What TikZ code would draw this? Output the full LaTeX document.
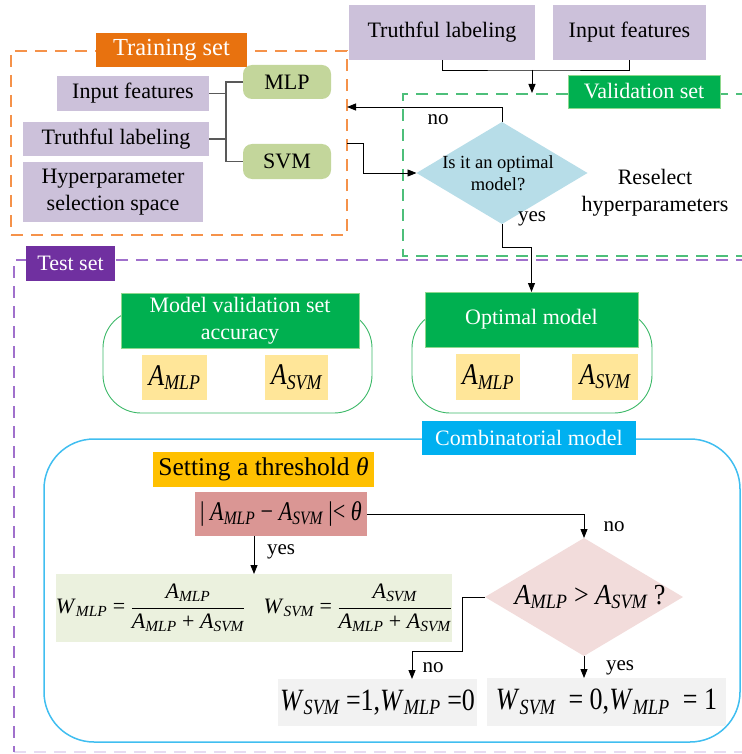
\documentclass[tikz,border=0pt]{standalone}
\usepackage{fix-cm}
\usepackage{graphicx}
\usepackage{fontspec}
\setmainfont{Liberation Serif}
\usetikzlibrary{shapes.geometric,arrows.meta,calc}
\definecolor{lav}{HTML}{CCC1DA}
\definecolor{pillg}{HTML}{C3D69B}
\definecolor{trainor}{HTML}{E8720F}
\definecolor{trainline}{HTML}{F5924A}
\definecolor{valg}{HTML}{00B050}
\definecolor{valline}{HTML}{4DBF7A}
\definecolor{testp}{HTML}{7030A0}
\definecolor{testline}{HTML}{A070CC}
\definecolor{ylw}{HTML}{FFE699}
\definecolor{combb}{HTML}{00B0F0}
\definecolor{combline}{HTML}{40BEF0}
\definecolor{thr}{HTML}{FFC000}
\definecolor{absc}{HTML}{DA9694}
\definecolor{fbox}{HTML}{EBF1DE}
\definecolor{dtwo}{HTML}{F2DCDB}
\definecolor{done}{HTML}{B7DDE8}
\definecolor{wbox}{HTML}{F2F2F2}
\definecolor{grpg}{HTML}{3CB868}
\definecolor{hdrb}{HTML}{8ED88E}
\definecolor{gl}{HTML}{595959}
\newcommand{\tA}[1]{\textit{A}\textsubscript{\itshape #1}}
\newcommand{\tW}[1]{\textit{W}\textsubscript{\itshape #1}}
\newcommand{\cond}[2]{\scalebox{#1}[1]{#2}}
\begin{document}
\begin{tikzpicture}[x=1pt,y=-1pt,
  box/.style={rectangle, inner sep=0pt, outer sep=0pt, align=center, font=\fontsize{22}{26.5}\selectfont},
  lavbox/.style={box, fill=lav},
  pill/.style={box, fill=pillg, rounded corners=9pt},
  hdr/.style={box, fill=valg, draw=hdrb, line width=0.6pt, text=white},
  ybox/.style={box, fill=ylw, font=\fontsize{30}{32}\selectfont},
  dashline/.style={line width=1.2pt, dash pattern=on 12pt off 8pt},
  gline/.style={draw=gl, line width=1.1pt},
  line/.style={draw=black, line width=0.9pt},
  arr/.style={draw=black, line width=0.9pt, -{Triangle[length=9pt,width=7pt]}},
  lbltext/.style={inner sep=0pt, font=\fontsize{21}{24}\selectfont},
  grp/.style={draw=grpg, line width=0.9pt, rounded corners=38pt}
]
\useasboundingbox (0,0) rectangle (741,754);

% ---------- Training set ----------
\node[draw=trainline, dashline, minimum width=336, minimum height=184, inner sep=0pt, outer sep=0pt] (train) at (179,143) {};
\node[box, fill=trainor, text=white, minimum width=151, minimum height=34, font=\fontsize{24.5}{26}\selectfont] (trainl) at (171.5,50) {Training set};
\node[lavbox, minimum width=152, minimum height=35] (tin) at (133,93.5) {Input features};
\node[lavbox, minimum width=186, minimum height=34] (ttl) at (116,139) {Truthful labeling};
\node[lavbox, minimum width=180, minimum height=60] (thp) at (113,192) {Hyperparameter\\selection space};
\node[pill, minimum width=88, minimum height=34] (mlp) at (287,82) {MLP};
\node[pill, minimum width=88, minimum height=35] (svm) at (287,161.5) {SVM};
\coordinate (jn) at (226,122);
\draw[gline] (mlp.west) -| (jn) |- (svm.west);
\draw[gline] (tin.east) -- (tin.east -| jn);
\draw[gline] (ttl.east) -- (ttl.east -| jn);

% ---------- Validation set ----------
\node[lavbox, minimum width=186, minimum height=55] (vtl) at (442,32.5) {Truthful labeling};
\node[lavbox, minimum width=153, minimum height=55] (vif) at (629.5,32.5) {Input features};
\coordinate (vj) at (532,70);
\coordinate (vtop) at (532,93);
\draw[line] (vtl.south) |- (vj) -| (vif.south);
\draw[arr] (vj) -- (vtop);
\draw[draw=valline, dashline] (748,94) -| (403,256) -- (748,256);
\node[hdr, minimum width=152, minimum height=33] (vall) at (644,91.5) {Validation set};

\node[diamond, fill=done, minimum width=171, minimum height=102, inner sep=0pt, outer sep=0pt,
  label={[align=center, font=\fontsize{18.5}{22}\selectfont, xshift=-4pt]center:Is it an optimal\\model?}] (d1) at (502,173) {};
\coordinate (noend) at (347,107);
\draw[arr] (d1.north) |- (noend);
\draw[arr] (train.east) -- ++(16,0) |- (d1.west);
\node[lbltext] (nolab1) at (438,120) {no};
\node[lbltext] (yeslab1) at (532,219) {yes};
\node[box, font=\fontsize{22}{27}\selectfont] (resel) at (655,193) {Reselect\\hyperparameters};

% ---------- Test set ----------
\draw[draw=testline, dashline] (748,260) -| (14,752);
\draw[draw=testline, dashline, opacity=0.25] (14,752) -- (748,752);
\node[box, fill=testp, text=white, minimum width=89, minimum height=35] (testl) at (70.5,263.5) {Test set};

\draw[grp] (103,310) rectangle (372,413);
\draw[grp] (412,310) rectangle (652,413);
\node[hdr, minimum width=238, minimum height=55] (mvsa) at (240,320.5) {Model validation set\\accuracy};
\node[hdr, minimum width=213, minimum height=55] (opt) at (531.5,319.5) {Optimal model};
\draw[arr] (d1.south) -- ++(0,23) -| (opt.north);
\node[ybox, minimum width=65, minimum height=45] (la) at (174.5,377.5) {\cond{0.85}{\tA{MLP}}};
\node[ybox, minimum width=63, minimum height=45] (lb) at (296.5,377.5) {\cond{0.85}{\tA{SVM}}};
\node[ybox, minimum width=64, minimum height=46] (ra) at (488,377) {\cond{0.85}{\tA{MLP}}};
\node[ybox, minimum width=66, minimum height=46] (rb) at (605,377) {\cond{0.85}{\tA{SVM}}};

% ---------- Combinatorial model ----------
\draw[draw=combline, line width=1.5pt, rounded corners=50pt] (44,439) rectangle (740,742);
\node[box, fill=combb, text=white, minimum width=214, minimum height=34] (combl) at (529,438) {Combinatorial model};
\node[box, fill=thr, minimum width=221, minimum height=35, font=\fontsize{25.5}{27}\selectfont] (thres) at (263.5,469.5) {Setting a threshold \textit{θ}};
\node[box, fill=absc, minimum width=172, minimum height=44, font=\fontsize{27}{29}\selectfont] (abs) at (281,514) {\cond{0.82}{| \tA{MLP} − \tA{SVM} |< \textit{θ}}};
\node[box, fill=fbox, minimum width=394, minimum height=68, font=\fontsize{22}{24}\selectfont] (fb) at (254,608)
  {$\displaystyle\mbox{\tW{MLP} = }\frac{\mbox{\tA{MLP}}}{\mbox{\tA{MLP} + \tA{SVM}}}\;\;\;\mbox{\tW{SVM} = }\frac{\mbox{\tA{SVM}}}{\mbox{\tA{MLP} + \tA{SVM}}}$};
\draw[arr] (abs.south -| fb.north) -- (fb.north);
\node[lbltext] (yeslab2) at (281,552) {yes};

\node[diamond, fill=dtwo, minimum width=198, minimum height=118, inner sep=0pt, outer sep=0pt,
  label={[font=\fontsize{29}{31}\selectfont, xshift=6pt]center:\cond{0.9}{\tA{MLP} > \tA{SVM} ?}}] (d2) at (584,597) {};
\draw[arr] (abs.east) -| (d2.north);
\node[lbltext] (nolab2) at (614,527) {no};

\node[box, fill=wbox, minimum width=199, minimum height=47, font=\fontsize{31}{33}\selectfont] (w1) at (377.5,702.5) {\cond{0.84}{\tW{SVM} =1,\tW{MLP} =0}};
\node[box, fill=wbox, minimum width=239, minimum height=48, font=\fontsize{31}{33}\selectfont] (w2) at (606.5,702) {\cond{0.84}{\tW{SVM}\ \ = 0,\tW{MLP}\ \ = 1}};
\draw[arr] (d2.west) -- ++(-23,0) |- ($(w1.north)+(34.5,-28)$) -- ($(w1.north)+(34.5,0)$);
\draw[arr] (d2.south) -- (d2.south |- w2.north);
\node[lbltext] (nolab3) at (433,668) {no};
\node[lbltext] (yeslab3) at (620,668) {yes};
\end{tikzpicture}
\end{document}
